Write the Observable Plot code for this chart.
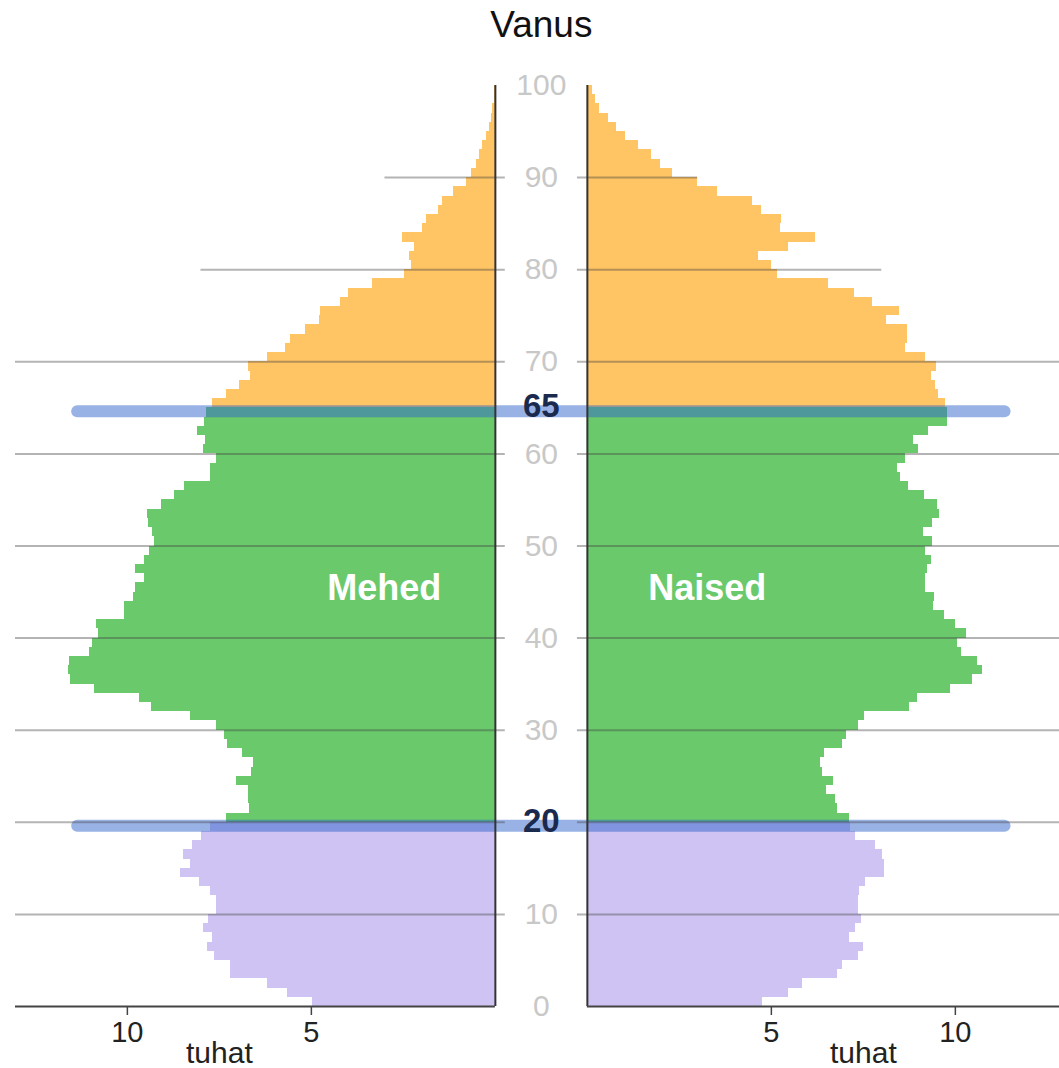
<!DOCTYPE html>
<html>
<head>
<meta charset="utf-8">
<script src="https://cdn.jsdelivr.net/npm/d3@7"></script>
<script src="https://cdn.jsdelivr.net/npm/@observablehq/plot@0.6"></script>
<style>
  html, body { margin: 0; padding: 0; background: #fff; overflow: hidden; }
  #chart { width: 1059px; height: 1068px; }
</style>
</head>
<body>
<div id="chart"></div>
<script>
// ---------------- DATA ----------------
const ages = [
  0,1,2,3,4,5,6,7,8,9,10,11,12,13,14,15,16,17,18,19,
  20,21,22,23,24,25,26,27,28,29,30,31,32,33,34,35,36,37,38,39,
  40,41,42,43,44,45,46,47,48,49,50,51,52,53,54,55,56,57,58,59,
  60,61,62,63,64,65,66,67,68,69,70,71,72,73,74,75,76,77,78,79,
  80,81,82,83,84,85,86,87,88,89,90,91,92,93,94,95,96,97,98,99
];
// Mehed (men), thousands
const men = [
  4.96,5.64,6.19,7.20,7.20,7.63,7.83,7.68,7.94,7.80,
  7.59,7.57,7.75,8.03,8.55,8.29,8.47,8.23,7.98,7.75,
  7.31,6.67,6.70,6.72,7.04,6.64,6.58,6.88,7.28,7.36,
  7.59,8.28,9.34,9.66,10.90,11.54,11.60,11.56,11.04,10.94,
  10.78,10.84,10.09,10.09,9.82,9.79,9.54,9.77,9.54,9.40,
  9.27,9.31,9.42,9.45,9.06,8.73,8.46,7.74,7.75,7.57,
  7.94,7.87,8.10,7.91,7.85,7.68,7.31,6.95,6.65,6.72,
  6.19,5.69,5.57,5.17,4.77,4.75,4.22,3.98,3.33,2.48,
  2.27,2.34,2.21,2.51,1.99,1.87,1.55,1.43,1.15,0.78,
  0.65,0.51,0.43,0.34,0.23,0.16,0.10,0.07,0.03,0.02
];
// Naised (women), thousands
const women = [
  4.77,5.46,5.84,6.81,6.93,7.36,7.50,7.13,7.28,7.45,
  7.37,7.37,7.40,7.57,8.07,8.07,8.03,7.84,7.28,7.16,
  7.11,6.79,6.74,6.50,6.68,6.38,6.33,6.45,6.93,7.05,
  7.37,7.52,8.76,8.96,9.88,10.46,10.75,10.60,10.18,10.07,
  10.30,10.00,9.71,9.40,9.42,9.19,9.19,9.25,9.36,9.19,
  9.39,9.13,9.39,9.57,9.51,9.17,8.74,8.50,8.44,8.65,
  8.99,8.87,9.27,9.78,9.78,9.74,9.54,9.45,9.36,9.50,
  9.19,8.65,8.70,8.70,8.12,8.47,7.75,7.25,6.56,5.17,
  5.01,4.66,5.46,6.21,5.25,5.28,4.73,4.50,3.53,3.00,
  2.30,1.98,1.74,1.38,1.04,0.80,0.58,0.34,0.21,0.14
];
const ageTicks = [0,10,20,30,40,50,60,70,80,90,100];
const highlightAges = [65, 20];
const gridAges  = [10,20,30,40,50,60,70,80,90];
const gridReach = [13.04,13.04,13.04,13.04,13.04,13.04,13.04,8,3];   // thousands reached by each grid line
const xTicks = [5, 10];
const sexLabels = ["Mehed", "Naised"];
const groupBreaks = [20, 65];
const groupColors = ["#cfc3f3", "#69c96b", "#ffc463"];

// ---------------- LAYOUT ----------------
const X_LEFT = 13.04;   // thousands shown on the left side
const X_RIGHT = 12.83;  // thousands shown on the right side (window edge)
const GAP = 1.25;       // half of the central gap, in x units
const TICK = 0.27;      // grid line overhang into gap
const BLUE_REACH = 11.35;
const LABEL_AGE = 45.4;
const LABEL_OFFSET = [3.02, 3.26];

const colorFor = a => a < groupBreaks[0] ? groupColors[0] : (a < groupBreaks[1] ? groupColors[1] : groupColors[2]);

const rows = [];
ages.forEach((a, i) => {
  rows.push({age: a, v: men[i], side: -1});
  rows.push({age: a, v: women[i], side: 1});
});
const gridRows = [];
gridAges.forEach((a, i) => {
  gridRows.push({age: a, reach: gridReach[i], side: -1});
  gridRows.push({age: a, reach: gridReach[i], side: 1});
});

const chart = Plot.plot({
  width: 1059,
  height: 1068,
  marginLeft: 15,
  marginRight: 0,
  marginTop: 85,
  marginBottom: 62,
  style: {fontFamily: "'Liberation Sans', Arial, sans-serif", background: "#fff"},
  x: {domain: [-(X_LEFT + GAP), X_RIGHT + GAP]},
  y: {domain: [0, 100], axis: null},
  marks: [
    Plot.rect(rows, {
      x1: d => d.side * GAP,
      x2: d => d.side * (GAP + d.v),
      y1: "age",
      y2: d => d.age + 1,
      fill: d => colorFor(d.age),
      shapeRendering: "crispEdges"
    }),
    Plot.ruleY(highlightAges, {
      y: d => d,
      x1: -(GAP + BLUE_REACH),
      x2: GAP + BLUE_REACH,
      stroke: "#3366cc",
      strokeOpacity: 0.5,
      strokeWidth: 12,
      strokeLinecap: "round",
      dy: 3.5
    }),
    Plot.ruleY(gridRows, {
      y: "age",
      x1: d => d.side * (GAP + d.reach),
      x2: d => d.side * (GAP - TICK),
      stroke: "#444",
      strokeOpacity: 0.4,
      strokeWidth: 2
    }),
    Plot.ruleX([-GAP, GAP], {
      x: d => d,
      y1: ageTicks[0],
      y2: ageTicks[ageTicks.length - 1],
      stroke: "#333",
      strokeWidth: 2
    }),
    Plot.ruleY([-1, 1], {
      y: ageTicks[0],
      x1: d => d * GAP,
      x2: d => d * GAP + (d < 0 ? -X_LEFT : X_RIGHT),
      stroke: "#444",
      strokeWidth: 2
    }),
    Plot.axisX([...xTicks.map(t => -(GAP + t)), ...xTicks.map(t => GAP + t)], {
      tickSize: 9,
      tickPadding: 6,
      fontSize: 29,
      stroke: "#444",
      strokeWidth: 1.5,
      fill: "#222",
      label: null,
      tickFormat: d => String(Math.round(Math.abs(d) - GAP))
    }),
    Plot.text([-1, 1], {
      x: d => d * (GAP + 7.5),
      frameAnchor: "bottom",
      lineAnchor: "middle",
      dy: 47,
      text: () => "tuhat",
      fontSize: 30,
      fill: "#222"
    }),
    Plot.text(ageTicks.filter(a => !highlightAges.includes(a)), {
      x: 0,
      y: d => d,
      text: d => String(d),
      fill: "#c8c8c8",
      fontSize: 30
    }),
    Plot.text(highlightAges, {
      x: 0,
      y: d => d,
      text: d => String(d),
      fill: "#1a2a4f",
      fontSize: 33,
      fontWeight: "bold",
      dy: -1
    }),
    Plot.text(sexLabels, {
      x: (d, i) => (i === 0 ? -1 : 1) * (GAP + LABEL_OFFSET[i]),
      y: LABEL_AGE,
      text: d => d,
      fill: "#fff",
      fontSize: 36,
      fontWeight: "bold"
    }),
    Plot.text(["Vanus"], {
      x: 0,
      frameAnchor: "top",
      lineAnchor: "middle",
      dy: -60,
      text: d => d,
      fontSize: 37,
      fill: "#111"
    })
  ]
});
document.getElementById("chart").appendChild(chart);
</script>
</body>
</html>
